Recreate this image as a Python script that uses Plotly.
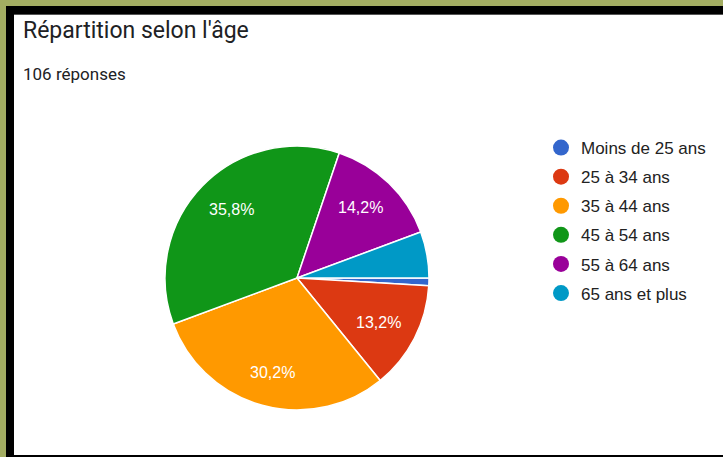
import math
import plotly.graph_objects as go

W, H = 723, 457

labels = ["Moins de 25 ans", "25 à 34 ans", "35 à 44 ans", "45 à 54 ans", "55 à 64 ans", "65 ans et plus"]
values = [1, 14, 32, 38, 15, 6]
colors = ["#3366cc", "#dc3912", "#ff9900", "#109618", "#990099", "#0099c6"]
title_text = "Répartition selon l'âge"
subtitle_text = f"{sum(values)} réponses"

total = sum(values)
start_angle = 90  # degrees clockwise from 12 o'clock

def px_x(x):
    return x / W

def px_y(y):
    return 1 - y / H

cx, cy, r = 297, 278, 132

fig = go.Figure()
fig.add_trace(go.Pie(
    labels=labels, values=values, sort=False, direction="clockwise", rotation=start_angle,
    marker=dict(colors=colors, line=dict(color="white", width=1.5)),
    textinfo="none", showlegend=False, hoverinfo="label+percent",
    domain=dict(x=[px_x(cx - r), px_x(cx + r)], y=[px_y(cy + r), px_y(cy - r)]),
))
for i, (lab, col) in enumerate(zip(labels, colors)):
    fig.add_trace(go.Scatter(
        x=[None], y=[None], mode="markers", name=lab, legendgroup=f"g{i}",
        marker=dict(symbol="circle", size=16, color=col), showlegend=True,
    ))

# slice labels (Google-style, placed along each slice's mid-angle)
annotations = []
acc = 0
for v in values:
    frac = v / total
    mid = math.radians(start_angle + (acc + v / 2) / total * 360)
    acc += v
    if frac < 0.1:
        continue
    lx = cx + 0.69 * r * math.sin(mid)
    ly = cy - 0.74 * r * math.cos(mid)
    annotations.append(dict(
        text=f"{frac * 100:.1f}%".replace(".", ","), xref="paper", yref="paper",
        x=px_x(lx), y=px_y(ly), xanchor="center", yanchor="middle", showarrow=False,
        font=dict(family="Liberation Sans, Arial", size=16, color="white"),
    ))

shapes = [
    dict(type="rect", xref="paper", yref="paper", x0=px_x(6), x1=px_x(W + 5), y0=px_y(H + 5), y1=px_y(6),
         fillcolor="#000000", line=dict(width=0), layer="below"),
    dict(type="rect", xref="paper", yref="paper", x0=px_x(14), x1=px_x(W + 5), y0=px_y(455), y1=px_y(15),
         fillcolor="#ffffff", line=dict(width=0), layer="below"),
    dict(type="line", xref="paper", yref="paper", x0=px_x(14), x1=px_x(W + 5), y0=px_y(14.5), y1=px_y(14.5),
         line=dict(color="#555555", width=1), layer="below"),
]

annotations += [
    dict(text=title_text, xref="paper", yref="paper", x=px_x(21), y=px_y(31), xanchor="left", yanchor="middle",
         showarrow=False, font=dict(family="Roboto", size=23, color="#202124")),
    dict(text=subtitle_text, xref="paper", yref="paper", x=px_x(21), y=px_y(74), xanchor="left", yanchor="middle",
         showarrow=False, font=dict(family="Roboto", size=17, color="#202124")),
]

fig.update_layout(
    width=W, height=H, margin=dict(l=0, r=0, t=0, b=0),
    paper_bgcolor="#a3ad62", plot_bgcolor="rgba(0,0,0,0)",
    xaxis=dict(visible=False), yaxis=dict(visible=False),
    shapes=shapes, annotations=annotations,
    legend=dict(x=px_x(541), y=px_y(130), xanchor="left", yanchor="top",
                font=dict(family="Liberation Sans, Arial", size=17, color="#222222"),
                tracegroupgap=4, traceorder="grouped", bgcolor="rgba(0,0,0,0)"),
)

fig.write_html("out.html", config={"displayModeBar": False},
               post_script="document.body.style.margin='0';document.body.style.overflow='hidden';")
